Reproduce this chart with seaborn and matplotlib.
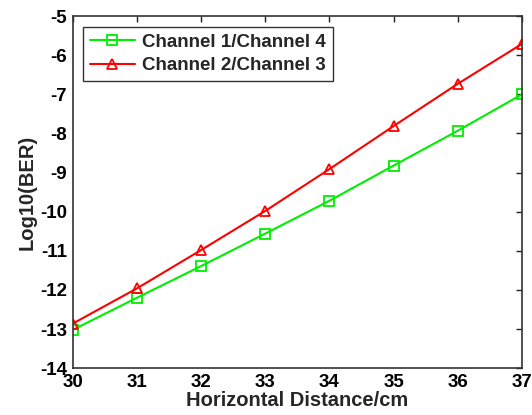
import matplotlib
matplotlib.use("Agg")
import matplotlib.pyplot as plt
import seaborn as sns
import pandas as pd

distance = [30, 31, 32, 33, 34, 35, 36, 37]
ch14 = [-13.02, -12.2, -11.39, -10.56, -9.72, -8.82, -7.93, -7.0]
ch23 = [-12.86, -11.96, -10.98, -9.98, -8.91, -7.81, -6.73, -5.71]
labels = ["Channel 1/Channel 4", "Channel 2/Channel 3"]

sns.set_style("white")
plt.rcParams['font.family'] = ['Liberation Sans', 'DejaVu Sans']
plt.rcParams['font.weight'] = 'bold'
plt.rcParams['axes.unicode_minus'] = False

colors = ["#00ee00", "#ff0000"]
fig = plt.figure(figsize=(5.32, 4.15), dpi=100)
ax = fig.add_axes([0.137, 0.113, 0.844, 0.848])

df = pd.DataFrame({"x": distance * 2, "y": ch14 + ch23,
                   "s": [labels[0]] * len(distance) + [labels[1]] * len(distance)})
sns.lineplot(data=df, x="x", y="y", hue="s", style="s",
             palette=colors, markers=["s", "^"], dashes=False,
             markersize=7, markerfacecolor="none", markeredgewidth=1.3,
             linewidth=1.5, ax=ax)
for line, c in zip(ax.lines[:2], colors):
    line.set_markeredgecolor(c)
    line.set_markerfacecolor("none")

ax.set_xlim(30, 37)
ax.set_ylim(-14, -5)
ax.set_xticks(distance)
ax.set_yticks(range(-14, -4))
ax.tick_params(direction="in", length=4, width=1, colors="#222222",
               top=True, right=True, labelsize=13.5, pad=4)
for lab in ax.get_xticklabels() + ax.get_yticklabels():
    lab.set_fontweight("bold")
    lab.set_color("black")
for sp in ax.spines.values():
    sp.set_color("#333333")
    sp.set_linewidth(1.2)
ax.set_xlabel("Horizontal Distance/cm", fontsize=14.5, fontweight="bold", labelpad=0)
ax.set_ylabel("Log10(BER)", fontsize=14.5, fontweight="bold", labelpad=3)

handles, _ = ax.get_legend_handles_labels()
for h, c in zip(handles, colors):
    h.set_markerfacecolor("none")
    h.set_markeredgecolor(c)
leg = ax.legend(handles, labels, loc="upper left", bbox_to_anchor=(0.015, 0.98),
                fontsize=13.5, frameon=True, fancybox=False, edgecolor="black",
                handlelength=2.4, borderpad=0.35, labelspacing=0.35, handletextpad=0.4,
                borderaxespad=0.2)
leg.get_frame().set_linewidth(1.0)
for t in leg.get_texts():
    t.set_fontweight("bold")

fig.savefig("out.png", dpi=100)
